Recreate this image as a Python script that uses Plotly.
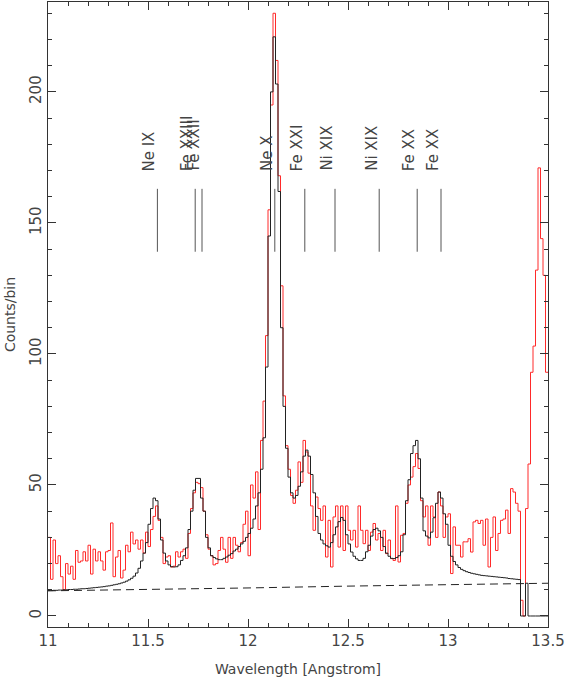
import plotly.graph_objects as go

# spectrum binning (Angstrom)
WL_START = 11.0
BIN_WIDTH = 0.0125

# observed counts per bin (red histogram)
counts = [
    30, 14, 29, 20, 23, 15, 10, 20, 16, 19,
    14, 25, 20.5, 21, 24.5, 21, 27, 16, 25.5, 21,
    24.5, 21, 17.5, 24.5, 25, 35.5, 15, 22.5, 25, 14.5,
    17.5, 27, 24.5, 32, 27.5, 29, 25.5, 29, 24, 32,
    26.5, 33, 38, 42, 36.5, 30, 20, 22.5, 23, 18.7,
    19, 24.5, 22.5, 24.5, 25.5, 22, 31.5, 41, 47, 51,
    50.5, 49, 40, 31, 25.5, 23, 19.5, 20, 25, 30,
    25.5, 20.5, 30, 22, 30, 27, 24.5, 28, 35, 40,
    23, 50, 45, 55, 33, 67, 82, 107, 155, 195,
    230, 212, 168, 126, 84, 65, 56, 46, 43, 48,
    58.8, 51, 67, 62.6, 54.5, 42, 32.7, 45.4, 41, 36.5,
    42, 22.5, 36.5, 18.7, 37.8, 42, 26.3, 42, 25, 42,
    32.7, 29, 32.7, 26.3, 42, 32.7, 27.6, 32.7, 25, 32,
    35.3, 29, 31.5, 25, 32.7, 23.8, 29, 21.9, 21.2, 42,
    20.6, 30.8, 31.5, 43, 50, 53, 57, 62, 56.3, 44,
    37.8, 42, 27, 42, 37.8, 30, 47.3, 42, 30, 37.8,
    39, 16.2, 34, 27, 27, 22.5, 28.3, 28.3, 29.5, 24.4,
    35.9, 36.5, 35.3, 36.5, 27, 37, 18.7, 30, 37.8, 25,
    31.5, 36.5, 37, 40.4, 31.5, 48.6, 47.3, 43, 40, 6,
    0, 41, 58, 93, 103, 132, 171, 144, 130, 93,
]

# fitted model per bin (black histogram)
model = [
    9.7, 9.7, 9.8, 9.8, 9.9, 9.9, 10.0, 10.0, 10.1, 10.1,
    10.2, 10.2, 10.3, 10.4, 10.4, 10.5, 10.6, 10.7, 10.8, 10.9,
    11.0, 11.1, 11.2, 11.4, 11.5, 11.7, 11.9, 12.1, 12.3, 12.6,
    12.9, 13.3, 13.8, 14.4, 15.2, 16.4, 18.2, 21.0, 24.0, 28.0,
    35, 41, 45, 44, 37, 29, 24, 21, 19.5, 18.8,
    18.7, 18.8, 19.5, 21.2, 23, 26, 33, 40, 48, 52.5,
    52.5, 45, 40, 30, 26, 23, 22.3, 21.8, 21.5, 21.5,
    22, 22.5, 23.2, 23.8, 24.8, 25.5, 26.5, 27.5, 28.5, 30,
    31.5, 33.5, 37, 42, 47, 56, 68, 95, 145, 200,
    221, 203, 162, 110, 80, 64, 53, 47, 45, 46,
    49.5, 55, 61, 63.3, 61, 54, 47, 38, 31.5, 29,
    27.5, 26.8, 26.3, 28, 31, 34, 36, 37.6, 36.5, 31,
    27.5, 24.4, 22.8, 21.8, 21.2, 21.2, 22, 24.5, 27, 30.5,
    33, 33.5, 32.5, 30, 26.5, 24, 22.8, 22, 21.9, 22.3,
    23, 24.5, 31, 44, 52, 62, 65, 67, 60, 45,
    32.5, 30.5, 29.8, 32, 37.5, 43, 47.3, 45, 39, 35,
    27, 22.8, 20.8, 19.5, 18.5, 17.8, 17.3, 16.9, 16.6, 16.3,
    16.1, 15.9, 15.7, 15.5, 15.4, 15.3, 15.2, 15.1, 15.0, 14.9,
    14.8, 14.7, 14.6, 14.5, 14.3, 14.2, 14.1, 14.0, 13.9, 0,
    0, 12.5, 0, 0, 0, 0, 0, 0, 0, 0,
]

# continuum component (dashed)
cont_wl = [11.0, 11.5, 12.0, 12.5, 13.0, 13.5]
cont = [9.6, 10.1, 10.7, 11.4, 12.0, 12.5]

# line identifications
line_wl = [11.547, 11.736, 11.770, 12.134, 12.284, 12.435, 12.656, 12.846, 12.965]
line_names = ["Ne IX", "Fe XXIII", "Fe XXII", "Ne X", "Fe XXI",
              "Ni XIX", "Ni XIX", "Fe XX", "Fe XX"]
MARK_LO, MARK_HI, LABEL_Y = 139, 163, 169

edges = [WL_START + BIN_WIDTH * i for i in range(len(counts) + 1)]

fig = go.Figure()
fig.add_trace(go.Scatter(x=edges, y=counts + [counts[-1]], mode='lines',
                         line=dict(shape='hv', color='#ff2a2a', width=1)))
fig.add_trace(go.Scatter(x=edges, y=model + [model[-1]], mode='lines',
                         line=dict(shape='hv', color='#222222', width=1)))
fig.add_trace(go.Scatter(x=cont_wl, y=cont, mode='lines',
                         line=dict(color='#222222', width=1, dash='8px,5px')))

# vertical markers for the line ids
mx, my = [], []
for w in line_wl:
    mx += [w, w, None]
    my += [MARK_LO, MARK_HI, None]
fig.add_trace(go.Scatter(x=mx, y=my, mode='lines',
                         line=dict(color='#555555', width=1)))

for w, name in zip(line_wl, line_names):
    fig.add_annotation(x=w, y=LABEL_Y, text=name, textangle=-90,
                       showarrow=False, xanchor='right', yanchor='bottom',
                       xshift=3, font=dict(size=15, color='#444444'))

axis_style = dict(ticks='inside', ticklen=8, tickcolor='#333333',
                  showline=True, linecolor='#333333', linewidth=1,
                  mirror='ticks', showgrid=False, zeroline=False,
                  automargin=False,
                  tickfont=dict(size=15, color='#444444'))

fig.update_xaxes(range=[11, 13.5], tick0=11, dtick=0.5,
                 minor=dict(ticks='inside', ticklen=4, dtick=0.1, tick0=11,
                            tickcolor='#333333'),
                 title=dict(text='Wavelength [Angstrom]', standoff=15,
                            font=dict(size=14, color='#444444')),
                 **axis_style)
fig.update_yaxes(range=[-4.2, 234.3], tick0=0, dtick=50, tickangle=-90,
                 minor=dict(ticks='inside', ticklen=4, dtick=10, tick0=0,
                            tickcolor='#333333'),
                 title=dict(text='Counts/bin', standoff=8,
                            font=dict(size=14, color='#444444')),
                 **axis_style)

fig.update_layout(width=566, height=682,
                  margin=dict(l=48, r=18, t=2, b=55),
                  plot_bgcolor='white', paper_bgcolor='white',
                  showlegend=False,
                  font=dict(family='DejaVu Sans', size=13, color='#444444'))

fig.write_html("out.html", config={'displayModeBar': False},
               post_script="document.body.style.margin='0';")
